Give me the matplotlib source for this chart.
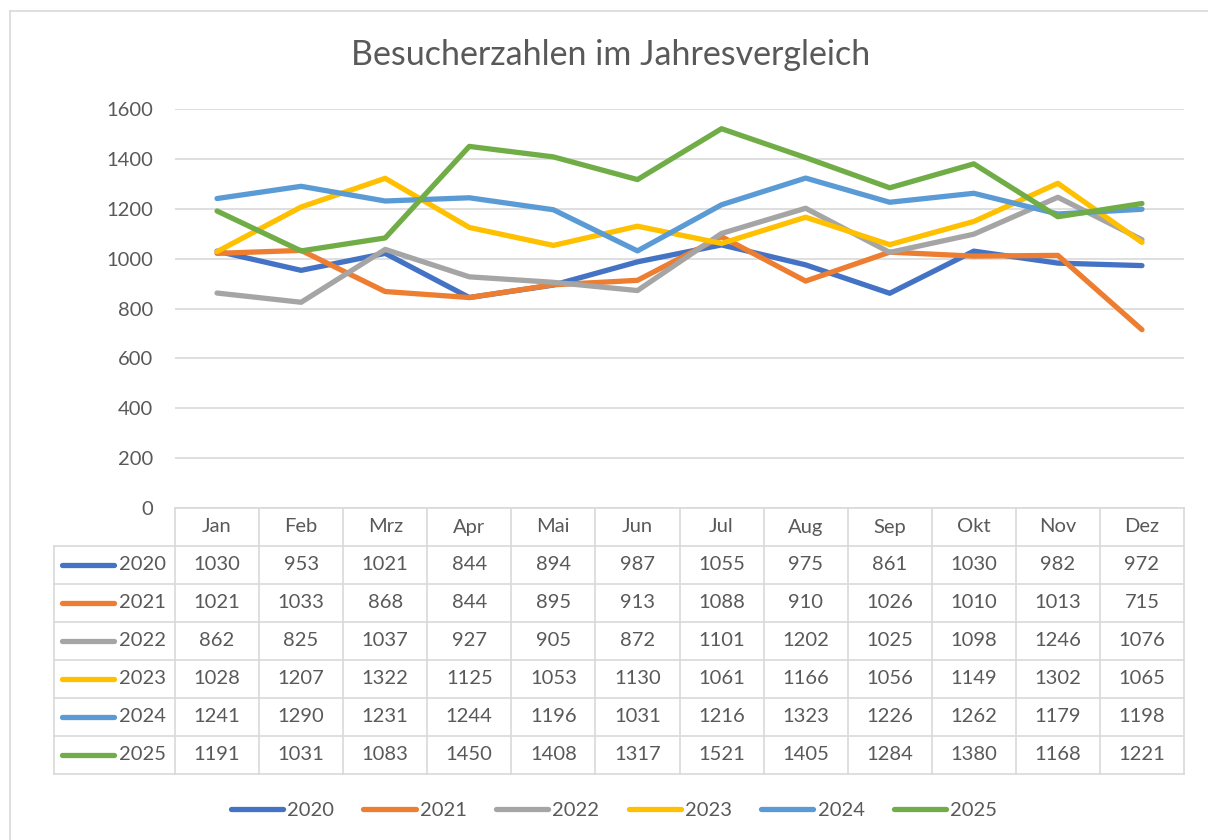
import numpy as np
import matplotlib.pyplot as plt
from matplotlib.lines import Line2D
from matplotlib.patches import Rectangle

plt.rcParams['font.family'] = ['Lato', 'DejaVu Sans']

months = ["Jan", "Feb", "Mrz", "Apr", "Mai", "Jun", "Jul", "Aug", "Sep", "Okt", "Nov", "Dez"]
years = ["2020", "2021", "2022", "2023", "2024", "2025"]
v2020 = [1030, 953, 1021, 844, 894, 987, 1055, 975, 861, 1030, 982, 972]
v2021 = [1021, 1033, 868, 844, 895, 913, 1088, 910, 1026, 1010, 1013, 715]
v2022 = [862, 825, 1037, 927, 905, 872, 1101, 1202, 1025, 1098, 1246, 1076]
v2023 = [1028, 1207, 1322, 1125, 1053, 1130, 1061, 1166, 1056, 1149, 1302, 1065]
v2024 = [1241, 1290, 1231, 1244, 1196, 1031, 1216, 1323, 1226, 1262, 1179, 1198]
v2025 = [1191, 1031, 1083, 1450, 1408, 1317, 1521, 1405, 1284, 1380, 1168, 1221]
series = [v2020, v2021, v2022, v2023, v2024, v2025]
colors = ["#4472C4", "#ED7D31", "#A5A5A5", "#FFC000", "#5B9BD5", "#70AD47"]

txt = "#595959"
grid = "#D9D9D9"
fs = 14.5
lw = 3.8
W, H = 1208, 840
fig = plt.figure(figsize=(W / 100, H / 100), dpi=100, facecolor="white", edgecolor="white")

# white strip on the right edge, then outer chart frame (left and top edges only)
fig.add_artist(Rectangle((1192 / W, 0), 16 / W, 1, transform=fig.transFigure,
                         facecolor="white", edgecolor="none", zorder=20))
fig.add_artist(Line2D([9.5 / W, 9.5 / W], [0, 1 - 11 / H], color=grid, lw=1.2, zorder=21))
fig.add_artist(Line2D([9.5 / W, 1], [1 - 11 / H, 1 - 11 / H], color=grid, lw=1.2, zorder=21))

x0, x1 = 175 / W, 1184 / W
ax = fig.add_axes([x0, 1 - 508 / H, x1 - x0, (508 - 109) / H])
x = np.arange(len(months)) + 0.5
for vals, c in zip(series, colors):
    ax.plot(x, vals, color=c, lw=lw, solid_capstyle="round", solid_joinstyle="round", zorder=3)
ax.set_xlim(0, 12)
ax.set_ylim(0, 1600)
ax.set_yticks(range(0, 1601, 200))
ax.yaxis.grid(True, color=grid, lw=1.2)
ax.set_axisbelow(True)
for s in ax.spines.values():
    s.set_visible(False)
ax.tick_params(axis="y", length=0, pad=16, labelsize=fs, labelcolor=txt)
ax.set_xticks([])
fig.text(611 / W, 1 - 55 / H, "Besucherzahlen im Jahresvergleich", ha="center", va="center",
         fontsize=24.5, color=txt)

# data table
tb = fig.add_axes([x0, 1 - 774 / H, x1 - x0, (774 - 508) / H])
tb.set_xlim(0, 12)
tb.set_ylim(7, 0)
tb.axis("off")
left = -(175 - 54) / ((1184 - 175) / 12)
lk = dict(color=grid, lw=1.2, clip_on=False)
for r in range(8):
    xs = [left if r >= 1 else 0, 12]
    tb.plot(xs, [r, r], **lk)
for c in range(13):
    tb.plot([c, c], [0, 7], **lk)
tb.plot([left, left], [1, 7], **lk)
for i, m in enumerate(months):
    tb.text(i + 0.5, 0.5, m, ha="center", va="center", fontsize=fs, color=txt)
for r, (yr, vals, c) in enumerate(zip(years, series, colors)):
    yy = r + 1.5
    tb.plot([left + 0.10, left + 0.71], [yy, yy], color=c, lw=lw,
            solid_capstyle="round", clip_on=False)
    tb.text(left + 0.77, yy, yr, ha="left", va="center", fontsize=fs, color=txt)
    for i, v in enumerate(vals):
        tb.text(i + 0.5, yy, str(v), ha="center", va="center", fontsize=fs, color=txt)

handles = [Line2D([], [], color=c, lw=lw, solid_capstyle="round") for c in colors]
fig.legend(handles, years, loc="center", bbox_to_anchor=(614 / W, 1 - 810 / H), ncol=6,
           frameon=False, fontsize=fs, labelcolor=txt, handlelength=2.6,
           handletextpad=0.2, columnspacing=1.45)

fig.savefig("out.png", dpi=100, facecolor="white")
